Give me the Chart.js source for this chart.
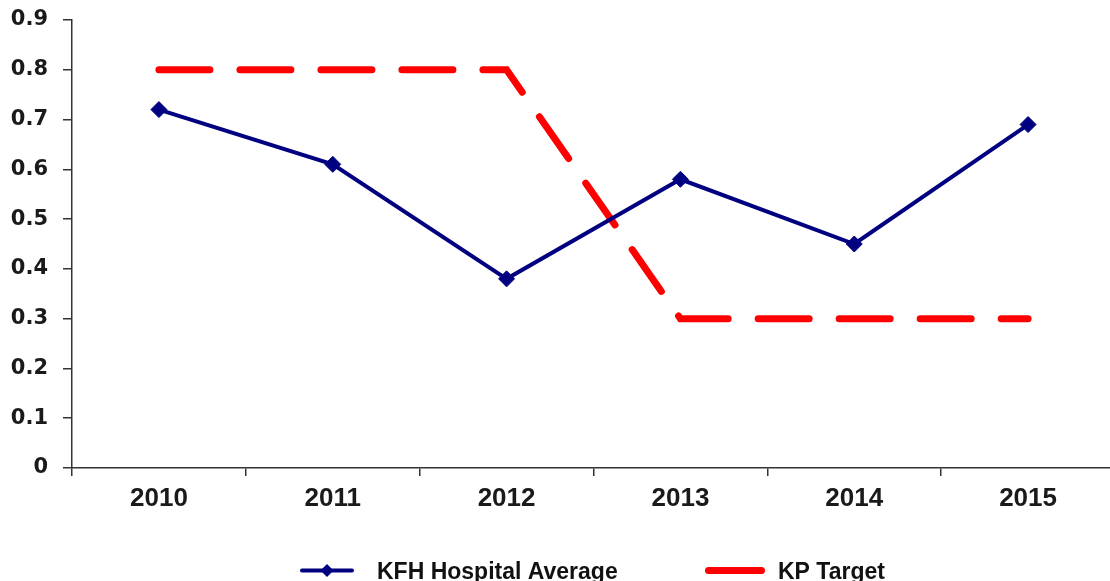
<!DOCTYPE html>
<html>
<head>
<meta charset="utf-8">
<script src="https://cdn.jsdelivr.net/npm/chart.js@4.4.1/dist/chart.umd.min.js"></script>
<style>
html,body{margin:0;padding:0;background:#fff;overflow:hidden;}
#wrap{width:1110px;height:581px;overflow:hidden;position:relative;}
canvas{display:block;}
</style>
</head>
<body>
<div id="wrap"><canvas id="c" width="1115" height="581" style="width:1115px;height:581px"></canvas></div>
<script>
const categories = ['2010','2011','2012','2013','2014','2015'];
const hospitalAverage = [0.72, 0.61, 0.38, 0.58, 0.45, 0.69];
const kpTarget = [0.8, 0.8, 0.8, 0.3, 0.3, 0.3];
const yTicks = [0, 0.1, 0.2, 0.3, 0.4, 0.5, 0.6, 0.7, 0.8, 0.9];
const seriesNames = ['KFH Hospital Average', 'KP Target'];

const FONT = '"Liberation Sans", Arial, sans-serif';
const YFONT = '"DejaVu Sans", sans-serif';
const NAVY = '#000080';
const RED = '#FF0000';

const legendPlugin = {
  id: 'customLegend',
  afterDraw(chart) {
    const ctx = chart.ctx;
    const y = 570.5;
    ctx.save();
    ctx.strokeStyle = NAVY; ctx.lineWidth = 4; ctx.lineCap = 'round';
    ctx.beginPath(); ctx.moveTo(302, y); ctx.lineTo(352, y); ctx.stroke();
    ctx.fillStyle = NAVY;
    ctx.beginPath(); ctx.moveTo(327, y - 6.5); ctx.lineTo(333.5, y); ctx.lineTo(327, y + 6.5); ctx.lineTo(320.5, y); ctx.closePath(); ctx.fill();
    ctx.strokeStyle = RED; ctx.lineWidth = 7;
    ctx.beginPath(); ctx.moveTo(708.5, y); ctx.lineTo(761.5, y); ctx.stroke();
    ctx.fillStyle = '#111';
    ctx.font = 'bold 23px ' + FONT;
    ctx.textBaseline = 'alphabetic'; ctx.textAlign = 'left';
    ctx.fillText(seriesNames[0], 377, 579);
    ctx.fillText(seriesNames[1], 778, 579);
    ctx.restore();
  }
};

new Chart(document.getElementById('c'), {
  type: 'line',
  data: {
    labels: categories,
    datasets: [
      {
        label: seriesNames[0],
        data: hospitalAverage,
        borderColor: NAVY,
        backgroundColor: NAVY,
        borderWidth: 4,
        pointStyle: 'rectRot',
        pointRadius: 8,
        pointBorderWidth: 1,
        pointBackgroundColor: NAVY,
        pointBorderColor: NAVY,
        tension: 0,
        order: 1
      },
      {
        label: seriesNames[1],
        data: kpTarget,
        borderColor: RED,
        backgroundColor: RED,
        borderWidth: 7,
        borderDash: [51, 30],
        borderCapStyle: 'round',
        pointRadius: 0,
        tension: 0,
        order: 2
      }
    ]
  },
  options: {
    responsive: false,
    animation: false,
    layout: { autoPadding: false, padding: { top: 20, right: 0, left: 0, bottom: 0 } },
    plugins: { legend: { display: false }, tooltip: { enabled: false } },
    scales: {
      x: {
        offset: true,
        grid: { offset: true, drawOnChartArea: false, tickLength: 8, color: '#333', lineWidth: 1.5 },
        border: { color: '#333', width: 1.5 },
        ticks: { color: '#1a1a1a', font: { family: FONT, size: 26, weight: 'bold' }, padding: 7, maxRotation: 0 },
        afterFit(s) { s.height = 113; s.paddingLeft = 0; s.paddingRight = 0; }
      },
      y: {
        min: 0, max: 0.9,
        afterBuildTicks(s) { s.ticks = yTicks.map(v => ({ value: v })); },
        grid: { drawOnChartArea: false, tickLength: 9, color: '#333', lineWidth: 1.5 },
        border: { color: '#333', width: 1.5 },
        ticks: {
          color: '#1a1a1a', font: { family: YFONT, size: 21, weight: 'bold' }, padding: 15,
          callback: v => String(Math.round(v * 10) / 10)
        },
        afterFit(s) { s.width = 72; s.paddingTop = 0; s.paddingBottom = 0; }
      }
    }
  },
  plugins: [legendPlugin]
});
</script>
</body>
</html>
